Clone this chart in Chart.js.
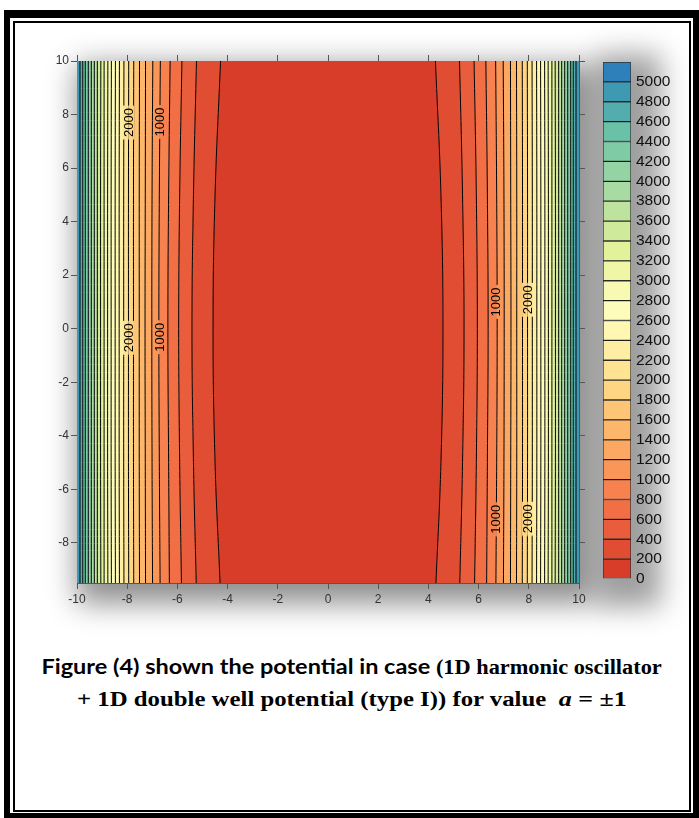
<!DOCTYPE html>
<html>
<head>
<meta charset="utf-8">
<script src="https://cdn.jsdelivr.net/npm/chart.js@4.4.1/dist/chart.umd.min.js"></script>
<style>
  html, body { margin: 0; padding: 0; background: #fff; }
  body { width: 699px; height: 818px; position: relative; overflow: hidden; font-family: "Liberation Sans", Arial, sans-serif; }
  .abs { position: absolute; }
  #frameOuter { left: 4px; top: 10px; width: 683px; height: 795px; border: solid #000; border-width: 8px 6px 5px 6px; }
  #frameInner { left: 13px; top: 21px; width: 674px; height: 787px; border: 2px solid #000; }
  #plotShadow { left: 77px; top: 61px; width: 502px; height: 522px; background: #fff; box-shadow: 8px 12px 28px 8px rgba(0,0,0,0.45); }
  #barShadow { left: 603px; top: 62px; width: 28px; height: 517px; background: #fff; box-shadow: 12px 10px 28px 18px rgba(0,0,0,0.38); }
  #contour { left: 37px; top: 50px; }
  #colorbar { left: 595px; top: 55px; }
  #caption { left: 5px; top: 651px; width: 694px; text-align: center; }
  .line { display: inline-block; white-space: nowrap; line-height: 30px; transform-origin: center center; }
  .sans { font-family: Lato, "Open Sans", sans-serif; font-weight: 700; font-size: 21px; }
  .serif { font-family: "Liberation Serif", "Times New Roman", serif; font-weight: 700; font-size: 20px; }
  .math { font-family: "Liberation Serif", "DejaVu Serif", serif; font-weight: 700; font-size: 21px; }
</style>
</head>
<body>
<div id="frameOuter" class="abs"></div>
<div id="frameInner" class="abs"></div>
<div id="plotShadow" class="abs"></div>
<div id="barShadow" class="abs"></div>
<canvas id="contour" class="abs" width="552" height="560"></canvas>
<canvas id="colorbar" class="abs" width="100" height="532"></canvas>
<div id="caption" class="abs">
  <div class="line" id="cap1"><span class="sans">Figure (4) shown the potential in case </span><span class="serif">(1D harmonic oscillator</span></div><br>
  <div class="line" id="cap2"><span class="serif">+ 1D double well potential (type I)) for value&nbsp; </span><span class="math"><i>a</i> = ±1</span></div>
</div>
<script>
// contour levels (right-hand side x positions; the left side is the mirror image)
const levels = [200, 400, 600, 800, 1000, 1200, 1400, 1600, 1800, 2000, 2200, 2400,
                2600, 2800, 3000, 3200, 3400, 3600, 3800, 4000, 4200, 4400, 4600, 4800];
const ySamples = [-9.5, -5, 0, 5, 10];
const xAtYm95 = [4.30, 5.25, 5.84, 6.32, 6.69, 6.99, 7.27, 7.51, 7.74, 7.94, 8.13, 8.31, 8.47, 8.63, 8.77, 8.92, 9.05, 9.19, 9.31, 9.43, 9.55, 9.67, 9.77, 9.88];
const xAtYm5  = [4.50, 5.36, 5.91, 6.35, 6.72, 7.01, 7.28, 7.52, 7.75, 7.95, 8.14, 8.32, 8.48, 8.64, 8.78, 8.92, 9.06, 9.19, 9.31, 9.43, 9.55, 9.67, 9.77, 9.88];
const xAtY0   = [4.58, 5.42, 5.95, 6.38, 6.74, 7.02, 7.29, 7.52, 7.75, 7.95, 8.14, 8.32, 8.48, 8.64, 8.78, 8.92, 9.06, 9.19, 9.31, 9.43, 9.55, 9.67, 9.77, 9.88];
const xAtY5   = [4.50, 5.36, 5.91, 6.35, 6.72, 7.01, 7.28, 7.52, 7.75, 7.95, 8.14, 8.32, 8.48, 8.64, 8.78, 8.92, 9.06, 9.19, 9.31, 9.43, 9.55, 9.67, 9.77, 9.88];
const xAtY10  = [4.28, 5.24, 5.82, 6.29, 6.68, 6.98, 7.27, 7.51, 7.74, 7.94, 8.13, 8.31, 8.47, 8.63, 8.77, 8.92, 9.05, 9.19, 9.31, 9.43, 9.55, 9.67, 9.77, 9.88];
const xEdge = 10;

// band colours, 0-200 up to 4800-5000, plus the cap above 5000
const bandColors = ['#d83d2a', '#e14d33', '#ea5d3c', '#f26e45', '#f7814f', '#fb9659', '#fca762',
  '#fdb76b', '#fec576', '#fed683', '#fee393', '#feeea3', '#fff7b2', '#fefcbb', '#f8fab3',
  '#eff6a5', '#e2f29a', '#cfea9b', '#bde39e', '#a8dba2', '#93d3a4', '#7ecba5', '#69c1a7',
  '#53acad', '#3e99b3'];
const topColor = '#2e80bb';

const xTickValues = [-10, -8, -6, -4, -2, 0, 2, 4, 6, 8, 10];
const yTickValues = [-8, -6, -4, -2, 0, 2, 4, 6, 8, 10];
const cbTickValues = [0, 200, 400, 600, 800, 1000, 1200, 1400, 1600, 1800, 2000, 2200, 2400, 2600,
  2800, 3000, 3200, 3400, 3600, 3800, 4000, 4200, 4400, 4600, 4800, 5000];

// inline contour labels
const labelTexts  = ['2000', '1000', '2000', '1000', '1000', '2000', '1000', '2000'];
const labelLevels = [2000, 1000, 2000, 1000, 1000, 2000, 1000, 2000];
const labelX = [-7.95, -6.70, -7.95, -6.70, 6.70, 7.95, 6.70, 7.95];
const labelY = [7.70, 7.72, -0.34, -0.32, 1.00, 1.08, -7.12, -7.10];

const pts = (xs, sign) => ySamples.map((yv, j) => ({ x: sign * xs[j], y: yv }));
const contourAt = (m) => [xAtYm95[m], xAtYm5[m], xAtY0[m], xAtY5[m], xAtY10[m]];

const datasets = [];
const lineStyle = { borderColor: '#000', borderWidth: 1, pointRadius: 0, tension: 0.4, xAxisID: 'x', yAxisID: 'y' };

datasets.push({ ...lineStyle, data: pts(ySamples.map(() => xEdge), -1), borderWidth: 0, fill: false });
for (let m = levels.length - 1; m >= 0; m--) {
  datasets.push({ ...lineStyle, data: pts(contourAt(m), -1), fill: '-1', backgroundColor: bandColors[m + 1] });
}
for (let m = 0; m < levels.length; m++) {
  datasets.push({ ...lineStyle, data: pts(contourAt(m), 1), fill: '-1', backgroundColor: bandColors[m] });
}
datasets.push({ ...lineStyle, data: pts(ySamples.map(() => xEdge), 1), borderWidth: 0, fill: '-1', backgroundColor: bandColors[levels.length] });

const contourLabelPlugin = {
  id: 'contourLabels',
  afterDatasetsDraw(chart) {
    const { ctx } = chart;
    const xs = chart.scales.x, ys = chart.scales.y;
    ctx.save();
    ctx.font = '13px "Liberation Sans", Arial, sans-serif';
    labelTexts.forEach((txt, i) => {
      const px = xs.getPixelForValue(labelX[i]);
      const py = ys.getPixelForValue(labelY[i]);
      const k = labelLevels[i] / 200;
      const w = ctx.measureText(txt).width + 5;
      const h = 11;
      const leftBand = labelX[i] < 0 ? k : k - 1;
      const rightBand = labelX[i] < 0 ? k - 1 : k;
      ctx.fillStyle = bandColors[leftBand];
      ctx.fillRect(px - h / 2, py - w / 2, h / 2, w);
      ctx.fillStyle = bandColors[rightBand];
      ctx.fillRect(px, py - w / 2, h / 2, w);
      ctx.save();
      ctx.translate(px, py);
      ctx.rotate(-Math.PI / 2);
      ctx.fillStyle = '#000';
      ctx.textAlign = 'center';
      ctx.textBaseline = 'middle';
      ctx.fillText(txt, 0, 0.5);
      ctx.restore();
    });
    ctx.restore();
  }
};

const axisColor = '#555';
const tickFont = { family: '"Liberation Sans", Arial, sans-serif', size: 12 };
const gridOpts = { drawOnChartArea: false, drawTicks: true, tickLength: 6, color: axisColor };
const borderOpts = { display: true, color: axisColor, width: 1 };

new Chart(document.getElementById('contour'), {
  type: 'line',
  data: { datasets },
  options: {
    responsive: false,
    animation: false,
    indexAxis: 'y',
    layout: { padding: 0 },
    plugins: { legend: { display: false }, tooltip: { enabled: false }, filler: { drawTime: 'beforeDatasetsDraw' } },
    scales: {
      x: {
        type: 'linear', position: 'bottom', min: -10, max: 10,
        afterBuildTicks: s => { s.ticks = xTickValues.map(v => ({ value: v })); },
        afterFit: s => { s.height = 27; s.paddingLeft = 0; s.paddingRight = 0; },
        ticks: { font: tickFont, color: '#333', padding: 3, autoSkip: false, maxRotation: 0 },
        grid: gridOpts, border: borderOpts
      },
      x2: {
        type: 'linear', position: 'top', min: -10, max: 10,
        afterBuildTicks: s => { s.ticks = xTickValues.map(v => ({ value: v })); },
        afterFit: s => { s.height = 11; },
        ticks: { display: false },
        grid: gridOpts, border: borderOpts
      },
      y: {
        type: 'linear', position: 'left', min: -9.5, max: 10,
        afterBuildTicks: s => { s.ticks = yTickValues.map(v => ({ value: v })); },
        afterFit: s => { s.width = 40; s.paddingTop = 0; s.paddingBottom = 0; },
        ticks: { font: tickFont, color: '#333', padding: 2, autoSkip: false },
        grid: gridOpts, border: borderOpts
      },
      y2: {
        type: 'linear', position: 'right', min: -9.5, max: 10,
        afterBuildTicks: s => { s.ticks = yTickValues.map(v => ({ value: v })); },
        afterFit: s => { s.width = 10; },
        ticks: { display: false },
        grid: gridOpts, border: borderOpts
      }
    }
  },
  plugins: [contourLabelPlugin]
});

// colour bar
const cbColors = bandColors.concat([topColor]);
const cbDatasets = cbColors.map(c => ({
  data: [200], backgroundColor: c, borderColor: 'rgba(0,0,0,0.8)', borderWidth: 1,
  borderSkipped: false, barPercentage: 1, categoryPercentage: 1
}));

new Chart(document.getElementById('colorbar'), {
  type: 'bar',
  data: { labels: [''], datasets: cbDatasets },
  options: {
    responsive: false,
    animation: false,
    layout: { padding: { left: 8, top: 7, bottom: 8, right: 0 } },
    plugins: { legend: { display: false }, tooltip: { enabled: false } },
    scales: {
      x: { display: false, stacked: true },
      y: {
        stacked: true, position: 'right', min: 0, max: 5200,
        afterBuildTicks: s => { s.ticks = cbTickValues.map(v => ({ value: v })); },
        afterFit: s => { s.width = 64; s.paddingTop = 0; s.paddingBottom = 0; },
        ticks: { font: { family: '"Liberation Sans", Arial, sans-serif', size: 15.5 }, color: '#111', padding: 5, autoSkip: false, callback: v => String(v) },
        grid: { drawOnChartArea: false, drawTicks: false },
        border: { display: false }
      }
    }
  }
});

// stretch caption lines to the widths of the reference
const fitLine = (id, target) => {
  const el = document.getElementById(id);
  el.style.transform = 'scaleX(' + (target / el.offsetWidth) + ')';
};
fitLine('cap1', 620);
fitLine('cap2', 550);
</script>
</body>
</html>
